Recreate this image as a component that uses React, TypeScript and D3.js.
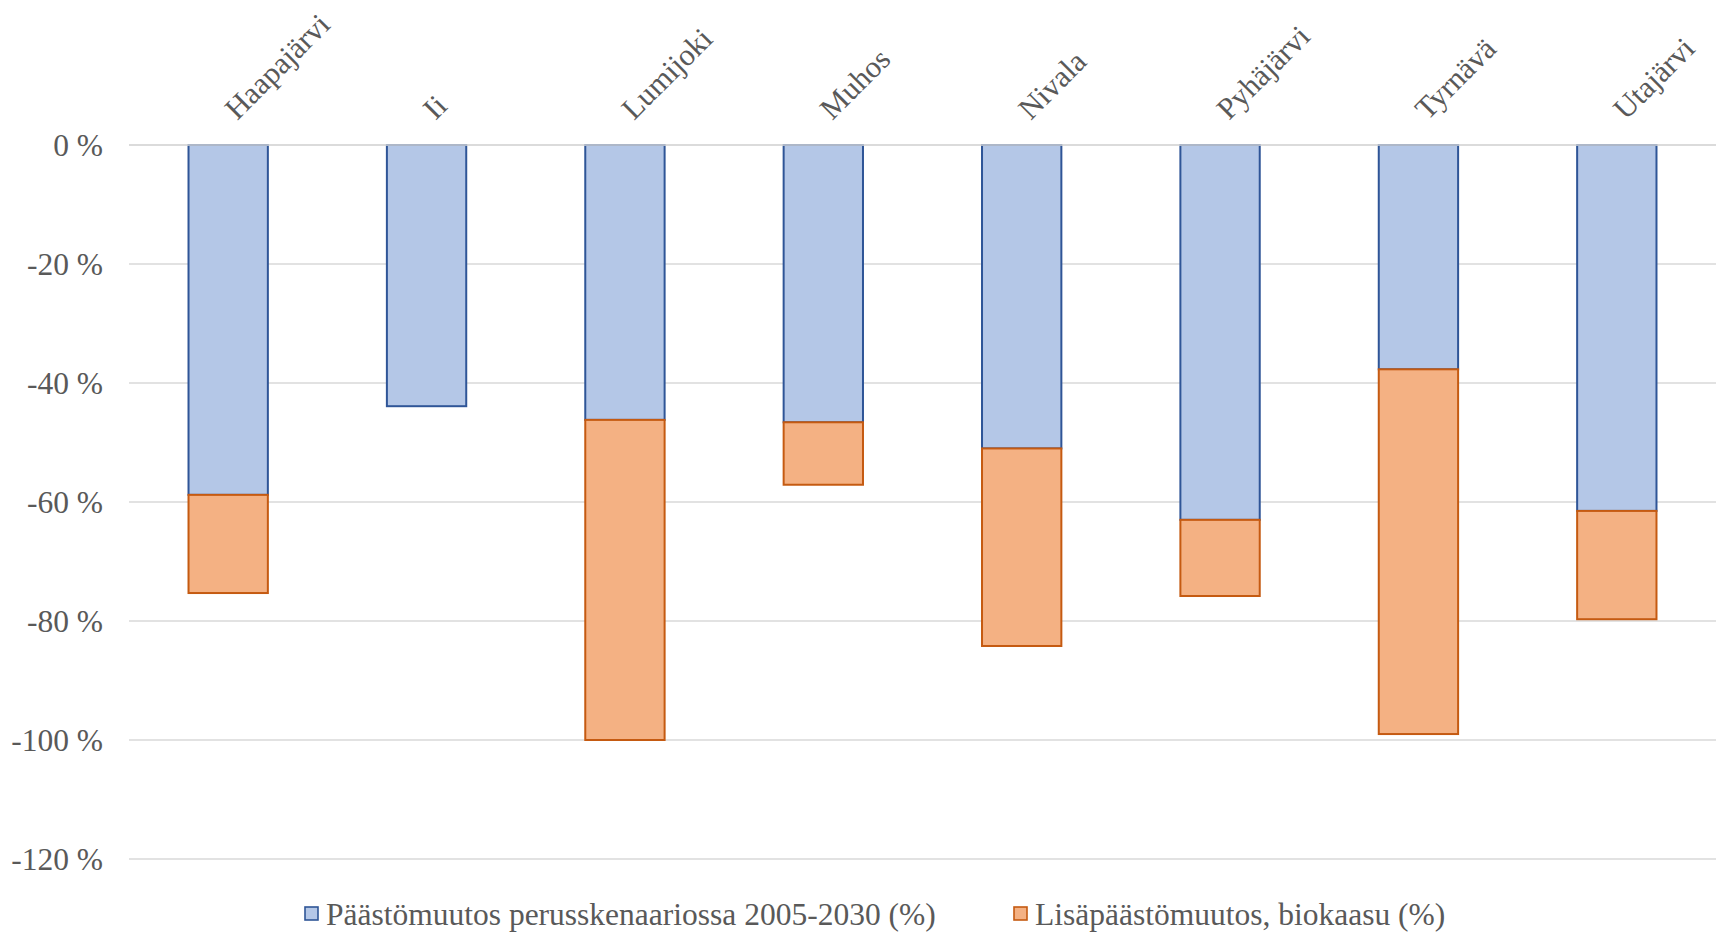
import React from "react";
import * as d3 from "d3";

// Municipalities on the category axis
const municipalities = [
  "Haapajärvi",
  "Ii",
  "Lumijoki",
  "Muhos",
  "Nivala",
  "Pyhäjärvi",
  "Tyrnävä",
  "Utajärvi",
];

// Emission change in the base scenario 2005-2030 (%)
const baseChange = [-58.8, -43.9, -46.2, -46.6, -51.0, -63.0, -37.7, -61.5];

// Additional emission change from biogas (%)
const biogasChange = [-16.5, 0, -53.8, -10.5, -33.2, -12.8, -61.3, -18.2];

const yTicks = [0, -20, -40, -60, -80, -100, -120];

const seriesNames = [
  "Päästömuutos perusskenaariossa 2005-2030 (%)",
  "Lisäpäästömuutos, biokaasu (%)",
];

const W = 1725;
const H = 934;
const margin = { left: 129, right: 9, top: 145, bottom: 75 };

const FONT = "'Liberation Serif', 'Times New Roman', serif";
const TEXT = "#595959";
const GRID = "#D9D9D9";
const BLUE_FILL = "#B4C7E7";
const BLUE_LINE = "#2F5597";
const ORANGE_FILL = "#F4B183";
const ORANGE_LINE = "#C55A11";

export default function App() {
  const x = d3
    .scaleBand<string>()
    .domain(municipalities)
    .range([margin.left, W - margin.right])
    .paddingInner(0.6)
    .paddingOuter(0.3);

  const y = d3
    .scaleLinear()
    .domain([0, -120])
    .range([margin.top, margin.top + 714]);

  const bw = x.bandwidth();

  return (
    <svg
      width={W}
      height={H}
      style={{ position: "absolute", left: 0, top: 0, background: "#fff" }}
      fontFamily={FONT}
    >
      {/* horizontal gridlines */}
      {yTicks.map((t) => (
        <line
          key={t}
          x1={margin.left}
          x2={W - margin.right}
          y1={y(t)}
          y2={y(t)}
          stroke={GRID}
          strokeWidth={1.6}
        />
      ))}

      {/* y tick labels */}
      {yTicks.map((t) => (
        <text
          key={"l" + t}
          x={103}
          y={y(t)}
          dy="0.35em"
          textAnchor="end"
          fontSize={31.5}
          fill={TEXT}
        >
          {`${t} %`}
        </text>
      ))}

      {/* stacked bars */}
      {municipalities.map((m, i) => {
        const x0 = x(m)!;
        const b = baseChange[i];
        const e = biogasChange[i];
        return (
          <g key={m}>
            <rect
              x={x0}
              y={y(0)}
              width={bw}
              height={y(b) - y(0)}
              fill={BLUE_FILL}
              stroke={BLUE_LINE}
              strokeWidth={2}
            />
            {e !== 0 && (
              <rect
                x={x0}
                y={y(b)}
                width={bw}
                height={y(b + e) - y(b)}
                fill={ORANGE_FILL}
                stroke={ORANGE_LINE}
                strokeWidth={2}
              />
            )}
          </g>
        );
      })}

      {/* zero line over the bar tops */}
      <line
        x1={margin.left}
        x2={W - margin.right}
        y1={y(0)}
        y2={y(0)}
        stroke={GRID}
        strokeWidth={1.6}
      />

      {/* rotated category labels above the plot */}
      {municipalities.map((m) => {
        const cx = x(m)! + bw / 2 + 9;
        const cy = 121;
        return (
          <text
            key={"c" + m}
            transform={`translate(${cx},${cy}) rotate(-45)`}
            fontSize={30.5}
            fill={TEXT}
          >
            {m}
          </text>
        );
      })}

      {/* legend */}
      {seriesNames.map((s, i) => {
        const lx = i === 0 ? 305 : 1014;
        const ly = 914;
        return (
          <g key={s}>
            <rect
              x={lx}
              y={ly - 7}
              width={13}
              height={13}
              fill={i === 0 ? BLUE_FILL : ORANGE_FILL}
              stroke={i === 0 ? BLUE_LINE : ORANGE_LINE}
              strokeWidth={1.6}
            />
            <text
              x={lx + 21}
              y={ly}
              dy="0.35em"
              fontSize={31.5}
              fill={TEXT}
            >
              {s}
            </text>
          </g>
        );
      })}
    </svg>
  );
}
